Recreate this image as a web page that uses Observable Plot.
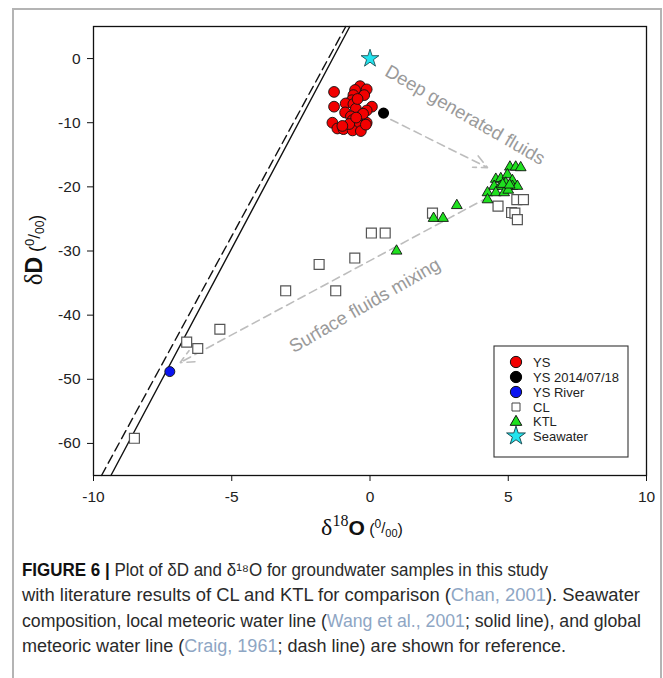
<!DOCTYPE html>
<html><head><meta charset="utf-8">
<script src="https://cdn.jsdelivr.net/npm/d3@7"></script>
<script src="https://cdn.jsdelivr.net/npm/@observablehq/plot@0.6"></script>
<style>
body{margin:0;background:#fff;}
#fig{position:absolute;left:0;top:0;width:663px;height:678px;overflow:hidden;background:#fff;}
#border{position:absolute;left:12px;top:8px;width:650px;height:720px;border:2px solid #b4b4b4;box-sizing:border-box;}
#chart{position:absolute;left:0;top:0;}
#cap{position:absolute;left:0;top:545px;}
</style></head><body>
<div id="fig"><div id="border"></div><div id="chart"></div><div id="cap"></div></div>
<script>
// ---- data (δ18O, δD in ‰) ----
const xTicks = [-10, -5, 0, 5, 10];
const yTicks = [0, -10, -20, -30, -40, -50, -60];

const ysX = [-1.30,-0.36,-0.12,-0.54,-0.21,-0.60,-0.66,-1.30,-0.88,-0.60,0.07,-0.12,-0.51,-0.90,-0.33,-0.69,-0.63,-1.36,-0.12,-0.39,-1.18,-0.96,-0.63,-0.33,-0.15,-0.75,-0.45,-0.25,-1.00,-0.50];
const ysY = [-5.2,-4.3,-4.8,-4.9,-5.7,-5.7,-6.5,-7.5,-7.0,-7.1,-7.5,-8.1,-7.8,-8.4,-9.0,-9.0,-9.6,-10.0,-10.0,-10.4,-10.9,-11.0,-11.2,-11.3,-10.3,-10.2,-6.3,-8.6,-10.5,-9.2];

const ys2014X = [0.49];
const ys2014Y = [-8.5];

const riverX = [-7.24];
const riverY = [-48.8];

const clX = [4.63,5.31,5.55,5.12,5.24,5.33,2.26,0.05,0.55,-0.55,-1.84,-3.05,-1.24,-5.43,-6.63,-6.23,-8.52];
const clY = [-23.0,-22.0,-22.0,-24.0,-24.1,-25.1,-24.1,-27.2,-27.2,-31.1,-32.1,-36.2,-36.2,-42.2,-44.2,-45.2,-59.2];

const ktlX = [5.06,5.27,5.45,4.55,4.73,4.97,5.15,4.91,4.49,4.71,5.15,5.33,4.25,4.55,4.85,4.25,5.00,4.80,5.05,3.14,2.30,2.64,0.96];
const ktlY = [-16.9,-16.9,-17.0,-18.8,-18.7,-18.1,-19.0,-19.4,-19.9,-19.9,-19.9,-19.9,-20.9,-20.9,-20.9,-22.0,-20.5,-19.6,-19.7,-22.9,-24.9,-24.9,-30.0];

const seaX = [0];
const seaY = [0];

// meteoric water lines (end points)
const lmwlX = [-9.37, -0.73];
const lmwlY = [-65, 5];
const gmwlX = [-9.71, -0.875];
const gmwlY = [-65, 5];

// trend arrows
const arrowX1 = [0.75, 4.28];
const arrowY1 = [-9.5, -21.6];
const arrowX2 = [4.25, -6.87];
const arrowY2 = [-17.0, -47.4];

const noteText = ["Deep generated fluids", "Surface fluids mixing"];
const noteX = [3.44, -0.19];
const noteY = [-8.8, -38.5];
const noteAngle = [30, -30];

const legendNames = ["YS", "YS 2014/07/18", "YS River", "CL", "KTL", "Seawater"];

// ---- build tables ----
const pts = (xs, ys) => xs.map((x, i) => ({x, y: ys[i]}));
const ys = pts(ysX, ysY), ys14 = pts(ys2014X, ys2014Y), river = pts(riverX, riverY);
const cl = pts(clX, clY), ktl = pts(ktlX, ktlY), sea = pts(seaX, seaY);
const lmwl = pts(lmwlX, lmwlY), gmwl = pts(gmwlX, gmwlY);
const arrows = arrowX1.map((x1, i) => ({x1, y1: arrowY1[i], x2: arrowX2[i], y2: arrowY2[i]}));
const notes = noteText.map((t, i) => ({t, x: noteX[i], y: noteY[i], a: noteAngle[i]}));

const font = "'Liberation Sans', Arial, Helvetica, sans-serif";
const serif = "'Liberation Serif', 'Times New Roman', serif";

const chart = Plot.plot({
  width: 663, height: 545,
  marginLeft: 93, marginRight: 17, marginTop: 26, marginBottom: 70,
  x: {domain: [-10, 10]},
  y: {domain: [-65, 5]},
  style: {fontFamily: font, fontSize: "15px", color: "#222", background: "transparent", overflow: "visible"},
  marks: [
    Plot.axisX({ticks: xTicks, tickFormat: d => String(d), tickSize: 6, tickPadding: 9, label: null, fontSize: 15.5, stroke: "#111"}),
    Plot.axisY({ticks: yTicks, tickFormat: d => String(d), tickSize: 6, tickPadding: 7, label: null, fontSize: 15.5, stroke: "#111"}),
    Plot.line(gmwl, {x: "x", y: "y", stroke: "#111", strokeWidth: 1.4, strokeDasharray: "9,5"}),
    Plot.line(lmwl, {x: "x", y: "y", stroke: "#111", strokeWidth: 1.4}),
    Plot.arrow(arrows, {x1: "x1", y1: "y1", x2: "x2", y2: "y2", stroke: "#bdbdbd", strokeWidth: 1.6,
      strokeDasharray: "8,5", headLength: 14, headAngle: 50}),
    Plot.text(notes, {x: "x", y: "y", text: "t", rotate: "a", fontSize: 18.5, fill: "#9a9a9a", fontFamily: font}),
    Plot.dot(cl, {x: "x", y: "y", symbol: "square", r: 5.6, fill: "white", stroke: "#555", strokeWidth: 1.2}),
    Plot.dot(ktl, {x: "x", y: "y", symbol: "triangle", r: 4, fill: "#1fe01f", stroke: "#111", strokeWidth: 0.9}),
    Plot.dot(ys, {x: "x", y: "y", r: 5.4, fill: "#f20000", stroke: "#111", strokeWidth: 0.9}),
    Plot.dot(ys14, {x: "x", y: "y", r: 4.8, fill: "#000", stroke: "#000"}),
    Plot.dot(river, {x: "x", y: "y", r: 5, fill: "#0a14f0", stroke: "#111", strokeWidth: 0.9}),
    Plot.dot(sea, {x: "x", y: "y", symbol: "star", r: 5.6, fill: "#22e3ee", stroke: "#1d4f55", strokeWidth: 0.9}),
    Plot.frame({stroke: "#111", strokeWidth: 1.3})
  ]
});
document.getElementById("chart").appendChild(chart);

const svg = d3.select(chart);

// axis titles
const xl = svg.append("text").attr("x", 362).attr("y", 535).attr("text-anchor", "middle").attr("fill", "#111");
xl.append("tspan").attr("font-family", serif).attr("font-size", 24).text("δ");
xl.append("tspan").attr("font-family", serif).attr("font-size", 16).attr("dy", -9).text("18");
xl.append("tspan").attr("font-family", font).attr("font-weight", "bold").attr("font-size", 21).attr("dy", 9).text("O");
xl.append("tspan").attr("font-family", font).attr("font-size", 16).text(" (");
xl.append("tspan").attr("font-family", font).attr("font-size", 12).attr("dy", -7).text("0");
xl.append("tspan").attr("font-family", font).attr("font-size", 15).attr("dy", 5).text("/");
xl.append("tspan").attr("font-family", font).attr("font-size", 11).attr("dy", 4).text("00");
xl.append("tspan").attr("font-family", font).attr("font-size", 16).attr("dy", -2).text(")");

const yl = svg.append("text").attr("transform", "translate(42,250) rotate(-90)").attr("text-anchor", "middle").attr("fill", "#111");
yl.append("tspan").attr("font-family", serif).attr("font-size", 25).text("δ");
yl.append("tspan").attr("font-family", font).attr("font-weight", "bold").attr("font-size", 23).text("D");
yl.append("tspan").attr("font-family", font).attr("font-size", 18).text(" (");
yl.append("tspan").attr("font-family", font).attr("font-size", 13).attr("dy", -8).text("0");
yl.append("tspan").attr("font-family", font).attr("font-size", 17).attr("dy", 6).text("/");
yl.append("tspan").attr("font-family", font).attr("font-size", 12).attr("dy", 4).text("00");
yl.append("tspan").attr("font-family", font).attr("font-size", 18).attr("dy", -2).text(")");

// legend box
const lg = svg.append("g").attr("text-anchor", "start");
lg.append("rect").attr("x", 494).attr("y", 346).attr("width", 134).attr("height", 111)
  .attr("fill", "white").attr("stroke", "#333").attr("stroke-width", 1.1);
const legendStyle = [
  {type: d3.symbolCircle, size: 100, fill: "#f20000", stroke: "#111"},
  {type: d3.symbolCircle, size: 100, fill: "#000", stroke: "#000"},
  {type: d3.symbolCircle, size: 100, fill: "#0a14f0", stroke: "#111"},
  {type: d3.symbolSquare, size: 64, fill: "white", stroke: "#444"},
  {type: d3.symbolTriangle, size: 58, fill: "#1fe01f", stroke: "#111"},
  {type: d3.symbolStar, size: 110, fill: "#22e3ee", stroke: "#1d4f55"}
];
const rowY = [362, 377, 392, 407, 421, 436];
legendNames.forEach((name, i) => {
  const s = legendStyle[i];
  lg.append("path").attr("d", d3.symbol(s.type, s.size)()).attr("transform", `translate(516,${rowY[i] + (i === 4 ? 1 : 0)})`)
    .attr("fill", s.fill).attr("stroke", s.stroke).attr("stroke-width", 1);
  lg.append("text").attr("x", 533).attr("y", rowY[i] + 5).attr("text-anchor", "start").attr("font-family", font).attr("font-size", 13)
    .attr("fill", "#222").text(name);
});

// caption
const cap = d3.select("#cap").append("svg").attr("width", 663).attr("height", 133);
const capFont = "'Liberation Sans Narrow', 'Liberation Sans', Arial, sans-serif";
const cite = "#8ea6c4";
const lines = [
  {y: 31, len: 526, parts: [["FIGURE 6 |", "b"], [" Plot of δD and δ¹⁸O for groundwater samples in this study"]]},
  {y: 56, len: 618, parts: [["with literature results of CL and KTL for comparison ("], ["Chan, 2001", "c"], ["). Seawater"]]},
  {y: 82, len: 619, parts: [["composition, local meteoric water line ("], ["Wang et al., 2001", "c"], ["; solid line), and global"]]},
  {y: 107, len: 544, parts: [["meteoric water line ("], ["Craig, 1961", "c"], ["; dash line) are shown for reference."]]}
];
lines.forEach(l => {
  const t = cap.append("text").attr("x", 22).attr("y", l.y).attr("font-family", capFont).attr("font-size", 17.5)
    .attr("fill", "#2a2a2a").attr("textLength", l.len).attr("lengthAdjust", "spacingAndGlyphs");
  l.parts.forEach(([txt, kind]) => {
    const sp = t.append("tspan").text(txt);
    if (kind === "b") sp.attr("font-weight", "bold").attr("fill", "#111");
    if (kind === "c") sp.attr("fill", cite);
  });
});
</script>
</body></html>
